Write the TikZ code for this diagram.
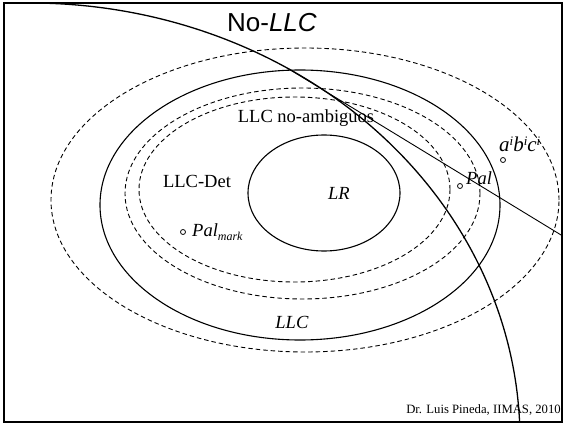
\documentclass[tikz,border=0pt]{standalone}
\usepackage{fontspec}
\setmainfont{Liberation Serif}
\newfontfamily\titlefont{Liberation Sans}
\begin{document}
\begin{tikzpicture}[x=1pt,y=-1pt,
  solidset/.style={line width=1.1pt},
  dashset/.style={line width=0.9pt, dash pattern=on 4.5pt off 3pt},
  elem/.style={circle, draw, line width=0.8pt, inner sep=0pt, minimum size=5pt},
  lbl/.style={font=\fontsize{18.5}{20}\selectfont, inner sep=0pt, anchor=base}]
\useasboundingbox (0,0) rectangle (565,425);
\fill[white] (0,0) rectangle (565,425);

% nested language classes
\draw[dashset] (305,200) ellipse [x radius=254pt, y radius=152pt];
\draw[solidset] (300,205) ellipse [x radius=200pt, y radius=135pt];
\draw[dashset] (302.5,193.5) ellipse [x radius=177.5pt, y radius=105.5pt];
\draw[dashset] (294.5,189.5) ellipse [x radius=155.5pt, y radius=92.5pt];
\draw[solidset] (324,193) ellipse [x radius=76pt, y radius=58pt];

% boundary of the context-free languages and the separating line
\coordinate (bigc) at (30,440);
\coordinate (rimend) at (566,238);
\begin{scope}
  \clip (3.5,3.5) rectangle (562,421.5);
  \draw[line width=1.3pt] (bigc) ++(92:490pt and 437pt)
    arc[start angle=92, end angle=-4, x radius=490pt, y radius=437pt];
  \draw[line width=0.9pt] (bigc) ++(58.2:490pt and 437pt) coordinate (split) -- (rimend);
\end{scope}

% frame
\draw[line width=2pt] (3.5,3.5) rectangle (562,421.5);

% labels
\node[font=\titlefont\fontsize{26}{30}\selectfont, inner sep=0pt, anchor=base] (title) at (272,32) {No-\textit{LLC}};
\node[lbl] (noamb) at (306,123) {LLC no-ambiguos};
\node[lbl] (det) at (197,187) {LLC-Det};
\node[lbl] (lr) at (339,200) {\textit{LR}};
\node[lbl] (llc) at (292,328) {\textit{LLC}};

% sample languages
\node[elem] (palmarkdot) at (183,232) {};
\node[lbl, anchor=base west] (palmark) at (192,236) {\textit{Pal}\raisebox{-4pt}{\fontsize{12}{13}\selectfont\itshape mark}};
\node[elem] (paldot) at (460,186) {};
\node[lbl, anchor=base west] (pal) at (466,185) {\textit{Pal}};
\node[elem] (abcdot) at (503,160) {};
\node[font=\fontsize{21}{24}\selectfont\itshape, inner sep=0pt, anchor=base west] (abc) at (499,152)
  {a\raisebox{6pt}{\fontsize{13}{14}\selectfont i}b\raisebox{6pt}{\fontsize{13}{14}\selectfont i}c\raisebox{6pt}{\fontsize{13}{14}\selectfont i}};

\node[font=\fontsize{12.7}{14}\selectfont, inner sep=0pt, anchor=base east] (credit) at (561,413) {Dr. Luis Pineda, IIMAS, 2010};
\end{tikzpicture}
\end{document}
